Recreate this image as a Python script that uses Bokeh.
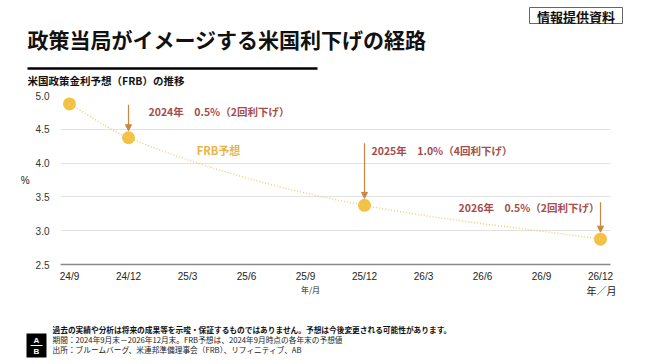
from bokeh.plotting import figure
from bokeh.layouts import column, row
from bokeh.models import (Label, Arrow, NormalHead, FixedTicker, NumeralTickFormatter,
                          Range1d)
from bokeh.core.properties import value
from bokeh.embed import file_html
from bokeh.resources import INLINE

# ---------------- data ----------------
x_labels = ["24/9", "24/12", "25/3", "25/6", "25/9", "25/12", "26/3", "26/6", "26/9", "26/12"]
dates = ["24/9", "24/12", "25/12", "26/12"]
rates = [4.875, 4.375, 3.375, 2.875]
y_ticks = [2.5, 3.0, 3.5, 4.0, 4.5, 5.0]
notes = {"24/12": "2024年\u30000.5%（2回利下げ）",
         "25/12": "2025年\u30001.0%（4回利下げ）",
         "26/12": "2026年\u30000.5%（2回利下げ）"}

JP = "Noto Sans CJK JP"
LAT = "Liberation Sans"

# page-pixel geometry
W = 646
HEAD_H = 87          # header strip: page y 0..87
MAIN_BOTTOM = 284    # main chart: page y 87..284
TOTAL_H = 360
FL, FR, FT, FB = 60, 610, 95, 264
first_px, step_px = 69, 59.0


def strip(y_top, y_bot):
    f = figure(width=W, height=y_bot - y_top, output_backend="svg", toolbar_location=None,
               x_range=Range1d(0, W), y_range=Range1d(y_bot, y_top),
               x_axis_type=None, y_axis_type=None, min_border=0,
               min_border_left=0, min_border_right=0, min_border_top=0, min_border_bottom=0)
    f.outline_line_color = None
    f.background_fill_color = "white"
    f.border_fill_color = "white"
    return f


def txt(f, px, py, text, size, color="#111111", font=JP, style="normal", align="left"):
    f.text(x=[px], y=[py], text=[text], text_font=value(font), text_font_size=value(f"{size}px"),
           text_font_style=style, text_color=color, text_align=align, text_baseline="middle")


# ---------------- header ----------------
head = strip(0, HEAD_H)
txt(head, 27, 38, "政策当局がイメージする米国利下げの経路", 21, "#111111", style="bold")
head.segment(x0=[27], y0=[68], x1=[317], y1=[68], line_color="black", line_width=2.5)
txt(head, 27, 80, "米国政策金利予想（FRB）の推移", 10.5, "#111111", style="bold")
head.quad(left=[529], right=[622], top=[7], bottom=[23], fill_color=None,
          line_color="#666666", line_width=1)
txt(head, 575.5, 15.5, "情報提供資料", 13, "#111111", style="bold", align="center")

# ---------------- main chart ----------------
x0 = (FL - first_px) / step_px
x1 = (FR - first_px) / step_px

p = figure(width=W, height=MAIN_BOTTOM - HEAD_H, output_backend="svg", toolbar_location=None,
           x_range=Range1d(x0, x1), y_range=Range1d(y_ticks[0], y_ticks[-1]),
           min_border_left=FL, min_border_right=W - FR,
           min_border_top=FT - HEAD_H, min_border_bottom=MAIN_BOTTOM - FB)
p.outline_line_color = None
p.background_fill_color = "white"
p.border_fill_color = "white"

p.xaxis.ticker = FixedTicker(ticks=list(range(len(x_labels))))
p.xaxis.major_label_overrides = {i: lab for i, lab in enumerate(x_labels)}
p.xaxis.axis_line_color = "#8a8a8a"
p.xaxis.axis_line_width = 1.5
p.xaxis.major_tick_line_color = None
p.xaxis.minor_tick_line_color = None
p.xaxis.major_tick_out = 0
p.xaxis.major_tick_in = 0
p.xaxis.minor_tick_out = 0
p.xaxis.major_label_standoff = 6
p.xaxis.major_label_text_font = LAT
p.xaxis.major_label_text_font_size = "10px"
p.xaxis.major_label_text_color = "#222222"

p.yaxis.ticker = FixedTicker(ticks=y_ticks)
p.yaxis.formatter = NumeralTickFormatter(format="0.0")
p.yaxis.axis_line_color = None
p.yaxis.major_tick_line_color = None
p.yaxis.minor_tick_line_color = None
p.yaxis.major_tick_out = 0
p.yaxis.major_tick_in = 0
p.yaxis.minor_tick_out = 0
p.yaxis.major_label_standoff = 11
p.yaxis.major_label_text_font = LAT
p.yaxis.major_label_text_font_size = "10px"
p.yaxis.major_label_text_color = "#333333"
p.yaxis.axis_label = "%"
p.yaxis.axis_label_orientation = "horizontal"
p.yaxis.axis_label_standoff = 3
p.yaxis.axis_label_text_font = LAT
p.yaxis.axis_label_text_font_style = "normal"
p.yaxis.axis_label_text_font_size = "10px"
p.yaxis.axis_label_text_color = "#222222"

p.xgrid.grid_line_color = None
p.ygrid.ticker = FixedTicker(ticks=y_ticks)
p.ygrid.grid_line_color = "#e2e2e2"
p.ygrid.grid_line_width = 1

# smooth (monotone cubic) path through the points, as Bezier segments
xs = [x_labels.index(d) for d in dates]
ys = rates
n = len(xs)
hs = [xs[i + 1] - xs[i] for i in range(n - 1)]
ds = [(ys[i + 1] - ys[i]) / hs[i] for i in range(n - 1)]
m = [ds[0]]
for i in range(1, n - 1):
    w1 = 2 * hs[i] + hs[i - 1]
    w2 = hs[i] + 2 * hs[i - 1]
    m.append((w1 + w2) / (w1 / ds[i - 1] + w2 / ds[i]))
m.append(ds[-1])

bx0, by0, bx1, by1, cx0, cy0, cx1, cy1 = [], [], [], [], [], [], [], []
for i in range(n - 1):
    h = hs[i]
    bx0.append(xs[i]); by0.append(ys[i])
    bx1.append(xs[i + 1]); by1.append(ys[i + 1])
    cx0.append(xs[i] + h / 3); cy0.append(ys[i] + m[i] * h / 3)
    cx1.append(xs[i + 1] - h / 3); cy1.append(ys[i + 1] - m[i + 1] * h / 3)

p.scatter(xs, ys, size=13, fill_color="#f3c245", line_color=None)
p.bezier(x0=bx0, y0=by0, x1=bx1, y1=by1, cx0=cx0, cy0=cy0, cx1=cx1, cy1=cy1,
         line_color="#efcd6e", line_width=1.4, line_dash="1 2")

ppu = (FB - FT) / (y_ticks[-1] - y_ticks[0])
arrow_len_px = {"24/12": 26, "25/12": 55, "26/12": 30}
ARC = "#c98742"
for d, L in arrow_len_px.items():
    xi = x_labels.index(d)
    r = rates[dates.index(d)]
    p.add_layout(Arrow(end=NormalHead(size=6, fill_color=ARC, line_color=ARC),
                       x_start=xi, y_start=r + (7 + L) / ppu,
                       x_end=xi, y_end=r + 7 / ppu,
                       line_color=ARC, line_width=1.2))


def lab(px, py, text, size, color, style="bold", align="left"):
    p.add_layout(Label(x=px - FL, y=FB - py, x_units="screen", y_units="screen", text=text,
                       text_font=JP, text_font_size=f"{size}px", text_font_style=style,
                       text_color=color, text_align=align, text_baseline="middle"))


RED = "#a54d4b"
lab(148, 111, notes["24/12"], 10.5, RED)
lab(371, 150, notes["25/12"], 10.5, RED)
lab(599, 207, notes["26/12"], 10.5, RED, align="right")
lab(218, 149, "FRB予想", 11, "#e6b44a", align="center")

# ---------------- footer ----------------
foot = strip(MAIN_BOTTOM, TOTAL_H)
txt(foot, 310, 289, "年/月", 8, "#222222", align="center")
txt(foot, 601, 290, "年／月", 10, "#222222", align="center")
txt(foot, 52, 329, "過去の実績や分析は将来の成果等を示唆・保証するものではありません。予想は今後変更される可能性があります。",
    7.7, "#111111", style="bold")
txt(foot, 52, 339, "期間：2024年9月末－2026年12月末。FRB予想は、2024年9月時点の各年末の予想値", 7.7, "#222222")
txt(foot, 52, 349, "出所：ブルームバーグ、米連邦準備理事会（FRB）、リフィニティブ、AB", 7.7, "#222222")
foot.quad(left=[26], right=[46], top=[333], bottom=[357], fill_color="black", line_color=None)
foot.segment(x0=[30], y0=[345], x1=[42], y1=[345], line_color="white", line_width=1)
txt(foot, 36, 339.5, "A", 8, "white", font=LAT, style="bold", align="center")
txt(foot, 36, 351, "B", 8, "white", font=LAT, style="bold", align="center")

layout = column(column(head), row(p), column(foot), spacing=0)
open("out.html", "w").write(file_html(layout, INLINE))
